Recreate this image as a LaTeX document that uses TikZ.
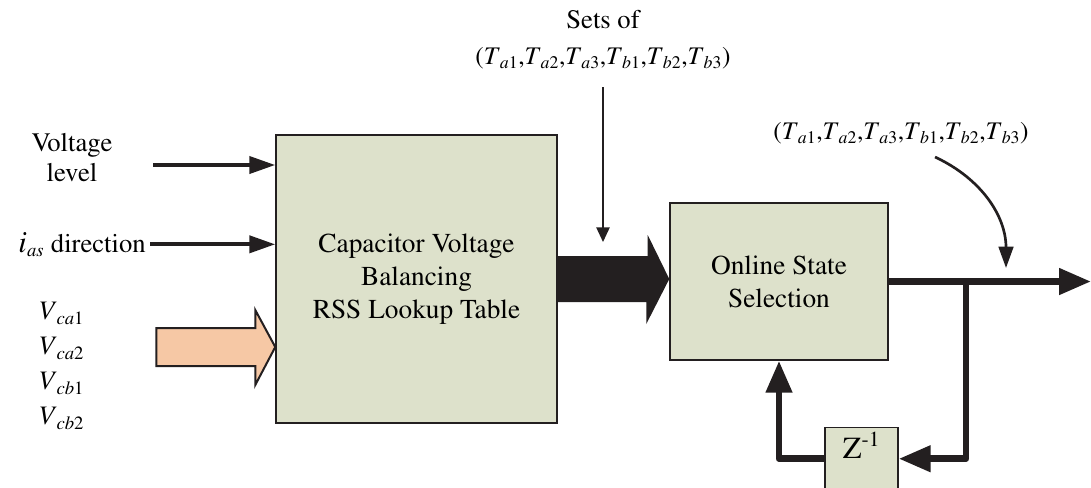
\documentclass[tikz,border=0pt]{standalone}
\usepackage[T1]{fontenc}
\renewcommand{\rmdefault}{ptm}
\usepackage{tikz}
\usetikzlibrary{
  arrows.meta,
  positioning,
  calc
}
\definecolor{cvbFill}{HTML}{DDE1CB}
\definecolor{cvbEdge}{HTML}{231F20}
\definecolor{cvbCap}{HTML}{F6C8A5}
\newcommand{\Tsw}[2]{\textit{T}\textsubscript{\textit{#1}#2}}
\newcommand{\Vcap}[2]{\textit{V}\textsubscript{\textit{#1}#2}}
\tikzset{
  blk/.style={
    draw=cvbEdge, fill=cvbFill, line width=1.1pt, align=center, inner sep=0pt,
    font=\fontsize{20.5}{24.75}\selectfont
  },
  lbl/.style={inner sep=0pt, font=\fontsize{20}{22.5}\selectfont},
  sig/.style={-{Triangle[length=19.5pt, width=12.75pt]}, line width=3pt, cvbEdge},
  thinsig/.style={-{Triangle[length=11pt, width=10pt]}, line width=1.1pt, cvbEdge},
  bendsig/.style={-{Triangle[length=16pt, width=11pt]}, line width=2pt, cvbEdge},
  bus/.style={-{Triangle[length=24pt, width=19pt]}, line width=5pt, cvbEdge, line join=round},
  capbus/.style={draw=cvbEdge, fill=cvbCap, line width=1.5pt, line join=miter}
}
\begin{document}
\begin{tikzpicture}[x=0.75pt, y=-0.75pt]
  \useasboundingbox (0,0) rectangle (1091,487);
  % blocks
  \node[blk, minimum width=210.75pt, minimum height=216pt] (rss) at (416.5,279) {Capacitor Voltage\\Balancing\\RSS Lookup Table};
  \node[blk, minimum width=163.5pt, minimum height=117.75pt] (oss) at (779,281.5) {Online State\\Selection};
  \node[blk, font=\fontsize{23}{26}\selectfont, minimum width=54.75pt, text height=23.25pt, text depth=26pt, anchor=north] (zd) at (861.5,427) {Z\textsuperscript{-1}};

  % inputs
  \node[lbl, align=center] (vlev) at (72,158) {Voltage\\level};
  \coordinate (vin) at (153,165);
  \draw[sig] (vin) -- (vin -| rss.west);
  \node[lbl, inner xsep=3pt, anchor=base east] (idir) at (150,252) {{\fontsize{23}{24}\selectfont\textit{i}}\textsubscript{\textit{as}} direction};
  \draw[sig] (idir.east) -- (idir.east -| rss.west);
  \node[lbl, align=left, font=\fontsize{20}{26.25}\selectfont, anchor=west] (vcap) at (38,366) {\Vcap{ca}{1}\\\Vcap{ca}{2}\\\Vcap{cb}{1}\\\Vcap{cb}{2}};
  \coordinate (vref) at (0,347);
  \draw[capbus] (rss.west |- vref) -- ++(-20,-37) -- ++(0,18) -- ++(-99,0) -- ++(0,38) -- ++(99,0) -- ++(0,19) -- cycle;

  % sets of states
  \node[lbl, align=center, font=\fontsize{19}{27}\selectfont] (sets) at (603,40) {\fontsize{20}{27}\selectfont Sets of\\(\Tsw{a}{1},\Tsw{a}{2},\Tsw{a}{3},\Tsw{b}{1},\Tsw{b}{2},\Tsw{b}{3})};
  \coordinate (setin) at (603,87);
  \coordinate (setend) at (603,242);
  \draw[thinsig] (setin) -- (setend);
  \fill[cvbEdge] (rss.east) -- ++(0,-23) -- ++(90,0) -- ++(0,-21) -- (oss.west |- rss.east) -- ++(-23,45) -- ++(0,-22) -- ++(-90,0) -- cycle;

  % output and feedback
  \coordinate (out) at (1091,282);
  \coordinate (br) at (966,282);
  \draw[bus] (oss.east) -- (oss.east -| out);
  \draw[bus] (br) -- (br |- zd.base east) -- (zd.base east);
  \draw[bus] (zd.base west) -- (oss.south |- zd.base west) -- (oss.south);
  \node[lbl, font=\fontsize{19}{22}\selectfont] (tout) at (901,133) {(\Tsw{a}{1},\Tsw{a}{2},\Tsw{a}{3},\Tsw{b}{1},\Tsw{b}{2},\Tsw{b}{3})};
  \coordinate (cin) at (935,157);
  \coordinate (cend) at (1006,268);
  \draw[bendsig] (cin) to[out=-25, in=90] (cend);
\end{tikzpicture}
\end{document}
